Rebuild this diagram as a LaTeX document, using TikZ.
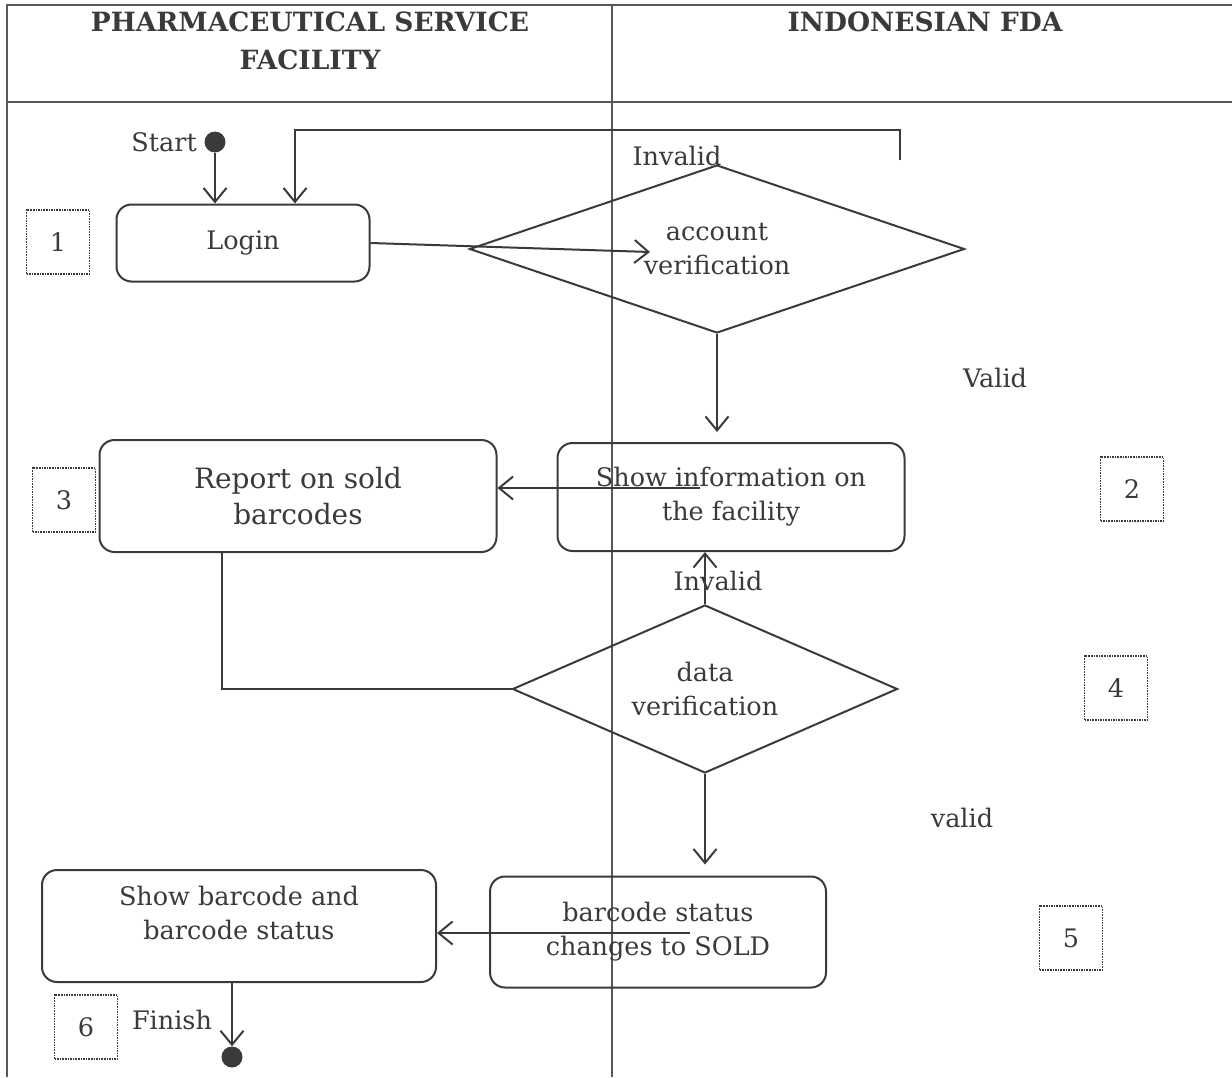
\documentclass[tikz,border=0pt]{standalone}
\usepackage{fontspec}
\setmainfont{DejaVu Serif}
\usetikzlibrary{shapes.geometric, arrows.meta, positioning}
\definecolor{ink}{HTML}{3A3A3A}

\begin{document}
\begin{tikzpicture} [x=1pt, y=-1pt, font=\fontsize{25.5}{34}\selectfont, text=ink,
    actbox/.style = {draw=ink, line width=2pt, rounded corners=15pt, align=center},
    decision/.style = {draw=ink, line width=2pt, diamond, aspect=2.6, inner sep=0pt, align=center},
    numbox/.style = {draw=ink, densely dotted, line width=1.6pt, minimum width=63pt, minimum height=64pt},
    dot/.style = {circle, fill=ink, inner sep=0pt, minimum size=21pt},
    flow/.style = {draw=ink, line width=2pt, -{Straight Barb[length=14pt, width=23pt, line width=2pt]}},
    lane/.style = {draw=ink!85, line width=1.5pt}]
    \useasboundingbox (0,0) rectangle (1232,1077);

    % swimlanes
    \draw [lane] (7,1077) -- (7,5) -- (1232,5);
    \draw [lane] (7,102) -- (1232,102);
    \draw [lane] (612,5) -- (612,1077);
    \node (hpsf) at (310,41) [align=center, font=\fontsize{26.5}{38}\selectfont\bfseries] {PHARMACEUTICAL SERVICE\\FACILITY};
    \node (hfda) at (925,22) [font=\fontsize{26.5}{38}\selectfont\bfseries] {INDONESIAN FDA};

    % activities
    \node (startdot) at (215,142) [dot] {};
    \node (start) [left = 4pt of startdot] {Start};
    \node (login) at (243,243) [actbox, minimum width=253pt, minimum height=77pt] {Login};
    \node (acct) at (717,249) [decision, minimum width=495pt, minimum height=168pt] {account\\verification};
    \node (showinfo) at (731,497) [actbox, minimum width=347pt, minimum height=108pt] {Show information on\\the facility};
    \node (report) at (298,496) [actbox, minimum width=397pt, minimum height=112pt, font=\fontsize{28}{36}\selectfont] {Report on sold\\barcodes};
    \node (data) at (705,689) [decision, minimum width=385pt, minimum height=168pt] {data\\verification};
    \node (barstat) at (658,932) [actbox, minimum width=336pt, minimum height=111pt] {barcode status\\changes to SOLD};
    \node (showbar) at (239,926) [actbox, minimum width=394pt, minimum height=112pt] {Show barcode and\\barcode status\\[-8pt]};
    \node (enddot) at (232,1057) [dot] {};
    \node (finish) at (172,1020) {Finish};

    % step numbers
    \node (n1) at (58,242) [numbox] {1};
    \node (n2) at (1132,489) [numbox] {2};
    \node (n3) at (64,500) [numbox] {3};
    \node (n4) at (1116,688) [numbox] {4};
    \node (n5) at (1071,938) [numbox] {5};
    \node (n6) at (86,1027) [numbox] {6};

    % guards
    \node (inv1) at (677,156) {Invalid};
    \node (val1) at (995,378) {Valid};
    \node (inv2) at (718,581) {Invalid};
    \node (val2) at (962,818) {valid};

    \coordinate (loopend) at (900,160);
    \coordinate (acctin) at (650,252);
    \coordinate (infostart) at (700,488);
    \coordinate (statstart) at (690,933);

    \path [every edge/.append style={flow}]
    (startdot) edge (startdot |- login.north)
    (login.east) edge (acctin)
    (acct.south) edge [shorten >=10pt] (acct.south |- showinfo.north)
    (infostart) edge (infostart -| report.east)
    (data.north) edge (data.north |- showinfo.south)
    (data.south) edge [shorten >=11pt] (data.south |- barstat.north)
    (statstart) edge (statstart -| showbar.east)
    (enddot |- showbar.south) edge (enddot.north)
    ;
    \draw [flow] (loopend) -- ++(0,-30) -| ([xshift=52pt]login.north);
    \draw [draw=ink, line width=2pt] ([xshift=-76pt]report.south) |- (data.west);
\end{tikzpicture}
\end{document}
